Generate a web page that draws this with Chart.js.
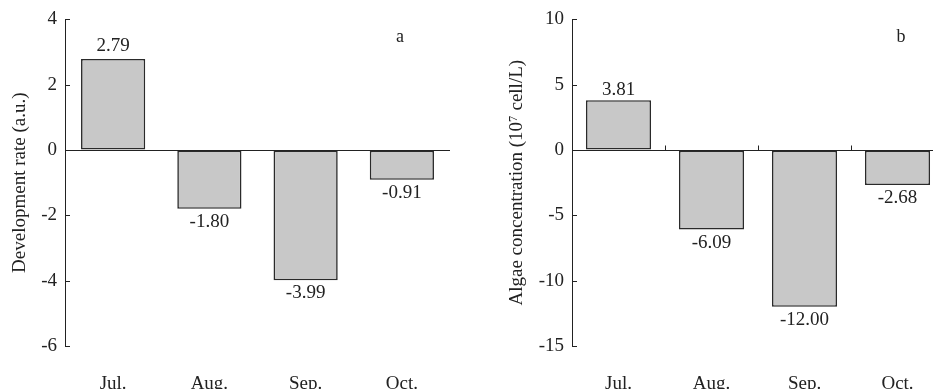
<!DOCTYPE html>
<html>
<head>
<meta charset="utf-8">
<script src="https://cdn.jsdelivr.net/npm/chart.js@4/dist/chart.umd.min.js"></script>
<style>
  html, body { margin: 0; padding: 0; background: #fff; overflow: hidden; }
  body { width: 933px; height: 389px; position: relative; }
  .panel { position: absolute; top: 0; height: 389px; }
  #panelA { left: 0; width: 465px; }
  #panelB { left: 463px; width: 481px; }
</style>
</head>
<body>
<div class="panel" id="panelA"><canvas id="chartA"></canvas></div>
<div class="panel" id="panelB"><canvas id="chartB"></canvas></div>
<script>
// Data
const months = ['Jul.', 'Aug.', 'Sep.', 'Oct.'];
const devRate = [2.79, -1.80, -3.99, -0.91];
const algaeConc = [3.81, -6.09, -12.00, -2.68];
const devAxis = { min: -6, max: 4, step: 2 };
const algaeAxis = { min: -15, max: 10, step: 5 };

const FONT = 'Liberation Serif, "Times New Roman", serif';
const INK = '#222';
const SIZE = 19;

// value labels, panel letter, inward y ticks, boundary ticks on zero line
const extras = {
  id: 'extras',
  afterDatasetsDraw(chart, args, opts) {
    const ctx = chart.ctx;
    const area = chart.chartArea;
    const y = chart.scales.y;
    const x = chart.scales.x;
    ctx.save();
    ctx.strokeStyle = INK;
    ctx.lineWidth = 1;
    // inward ticks on y axis
    y.ticks.forEach((t, i) => {
      const py = Math.round(y.getPixelForTick(i)) + 0.5;
      ctx.beginPath();
      ctx.moveTo(area.left, py);
      ctx.lineTo(area.left + 5, py);
      ctx.stroke();
    });
    // small ticks between categories
    if (opts.boundaryTicks) {
      const y0 = Math.round(y.getPixelForValue(0)) + 0.5;
      for (let i = 1; i < x.ticks.length; i++) {
        const px = Math.round((x.getPixelForTick(i - 1) + x.getPixelForTick(i)) / 2) + 0.5;
        ctx.beginPath();
        ctx.moveTo(px, y0);
        ctx.lineTo(px, y0 - 5);
        ctx.stroke();
      }
    }
    // value labels
    ctx.fillStyle = INK;
    ctx.font = SIZE + 'px ' + FONT;
    ctx.textAlign = 'center';
    ctx.textBaseline = 'middle';
    const meta = chart.getDatasetMeta(0);
    const values = chart.data.datasets[0].data;
    meta.data.forEach((bar, i) => {
      const v = values[i];
      const py = v >= 0 ? bar.y - opts.upGap : bar.y + 13;
      ctx.fillText(v.toFixed(2), bar.x, py);
    });
    // panel letter
    ctx.font = '18px ' + FONT;
    ctx.fillText(opts.letter, area.right - opts.letterDx, area.top + 18);
    ctx.restore();
  }
};

function makeChart(id, values, axis, title, titlePad, yWidth, rightPad, barPct, extraOpts) {
  const ctx = document.getElementById(id).getContext('2d');
  return new Chart(ctx, {
    type: 'bar',
    data: {
      labels: months,
      datasets: [{
        data: values,
        backgroundColor: '#c8c8c8',
        borderColor: '#2a2a2a',
        borderWidth: 1.6,
        borderSkipped: false,
        categoryPercentage: 1,
        barPercentage: barPct
      }]
    },
    options: {
      responsive: true,
      maintainAspectRatio: false,
      animation: false,
      layout: { padding: { top: 19, right: rightPad, left: 0, bottom: 0 } },
      scales: {
        x: {
          grid: { display: false },
          border: { display: false },
          ticks: { color: INK, font: { family: FONT, size: SIZE }, padding: 19 },
          afterFit(scale) { scale.height = 43; }
        },
        y: {
          min: axis.min,
          max: axis.max,
          ticks: { stepSize: axis.step, color: INK, font: { family: FONT, size: SIZE }, padding: 8 },
          grid: {
            drawTicks: false,
            color: c => (c.tick && c.tick.value === 0 ? INK : 'rgba(0,0,0,0)'),
            lineWidth: 1
          },
          border: { display: true, color: INK, width: 1 },
          title: {
            display: true,
            text: title,
            color: INK,
            font: { family: FONT, size: SIZE },
            padding: { top: titlePad, bottom: 0 }
          },
          afterFit(scale) { scale.width = yWidth; }
        }
      },
      plugins: {
        legend: { display: false },
        tooltip: { enabled: false },
        extras: extraOpts
      }
    },
    plugins: [extras]
  });
}

makeChart('chartA', devRate, devAxis, 'Development rate (a.u.)', 9, 65, 15, 0.667,
  { letter: 'a', letterDx: 50, upGap: 13, boundaryTicks: false });
makeChart('chartB', algaeConc, algaeAxis, 'Algae concentration (10\u2077 cell/L)', 43, 109, 0, 0.70,
  { letter: 'b', letterDx: 43, upGap: 10, boundaryTicks: true });
</script>
</body>
</html>
